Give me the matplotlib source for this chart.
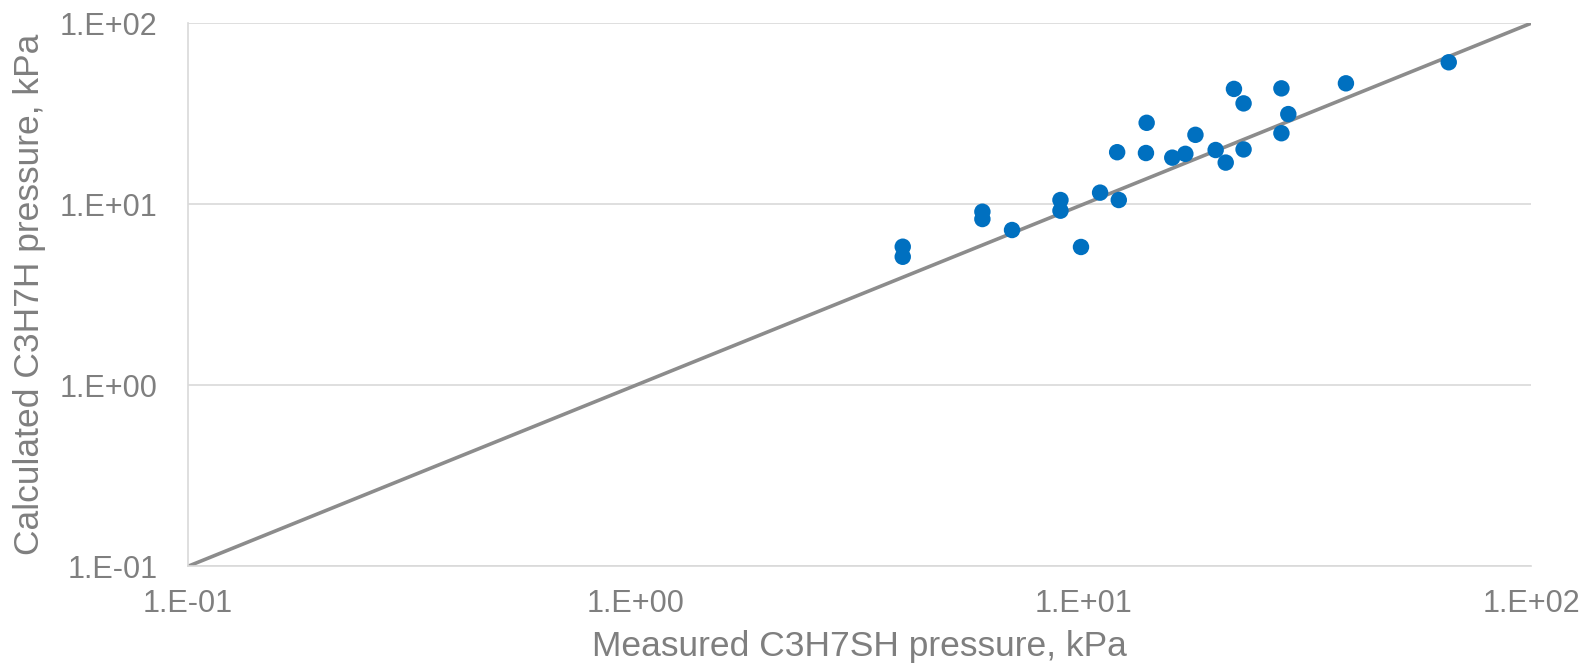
import matplotlib
matplotlib.use("Agg")
import matplotlib.pyplot as plt
from matplotlib.ticker import NullLocator

plt.rcParams['font.family'] = ['Liberation Sans', 'DejaVu Sans']

# Measured vs. calculated pressures (kPa)
measured = [3.95, 3.95, 5.95, 5.95, 6.93, 8.89, 8.89, 9.88, 10.9, 12.0,
            11.9, 13.85, 13.8, 15.8, 16.9, 17.8, 19.75, 20.8, 22.8, 22.8,
            21.7, 27.7, 28.7, 27.7, 38.6, 65.5]
calculated = [5.83, 5.13, 9.10, 8.29, 7.21, 10.56, 9.22, 5.81, 11.6, 10.56,
              19.4, 28.2, 19.2, 18.1, 19.0, 24.2, 19.95, 17.0, 20.1, 36.1,
              43.4, 43.7, 31.5, 24.7, 46.6, 60.9]

# Parity line endpoints and axis ticks
parity = [0.1, 100]
tick_values = [0.1, 1, 10, 100]
tick_labels = ["1.E-01", "1.E+00", "1.E+01", "1.E+02"]

W, H = 1585, 671
fig = plt.figure(figsize=(W / 100, H / 100), dpi=100)
ax = fig.add_axes([188 / W, 1 - 566.3 / H, (1531 - 188) / W, (566.3 - 23.3) / H])

text_color = "#7f7f7f"
grid_color = "#d9d9d9"

ax.plot(parity, parity, color="#8c8c8c", lw=2.6, zorder=2, solid_capstyle="butt")
ax.scatter(measured, calculated, s=140, color="#0070c0", edgecolors="none", zorder=3)

ax.set_xscale("log")
ax.set_yscale("log")
ax.set_xlim(0.1, 100)
ax.set_ylim(0.1, 100)
ax.set_xticks(tick_values)
ax.set_xticklabels(tick_labels)
ax.set_yticks(tick_values)
ax.set_yticklabels(tick_labels)
ax.xaxis.set_minor_locator(NullLocator())
ax.yaxis.set_minor_locator(NullLocator())

ax.yaxis.grid(True, color=grid_color, lw=1.2, zorder=0)
ax.xaxis.grid(False)
ax.set_axisbelow(True)

for side in ("top", "right"):
    ax.spines[side].set_visible(False)
for side in ("left", "bottom"):
    ax.spines[side].set_color(grid_color)
    ax.spines[side].set_linewidth(1.2)

ax.tick_params(axis="both", length=0, labelsize=22, labelcolor=text_color)
ax.tick_params(axis="y", pad=22)
ax.tick_params(axis="x", pad=16)

ax.set_xlabel("Measured C3H7SH pressure, kPa", fontsize=25.5, color=text_color, labelpad=8)
ax.set_ylabel("Calculated C3H7H pressure, kPa", fontsize=25.5, color=text_color, labelpad=10)

fig.savefig("out.png", dpi=100, facecolor="white")
